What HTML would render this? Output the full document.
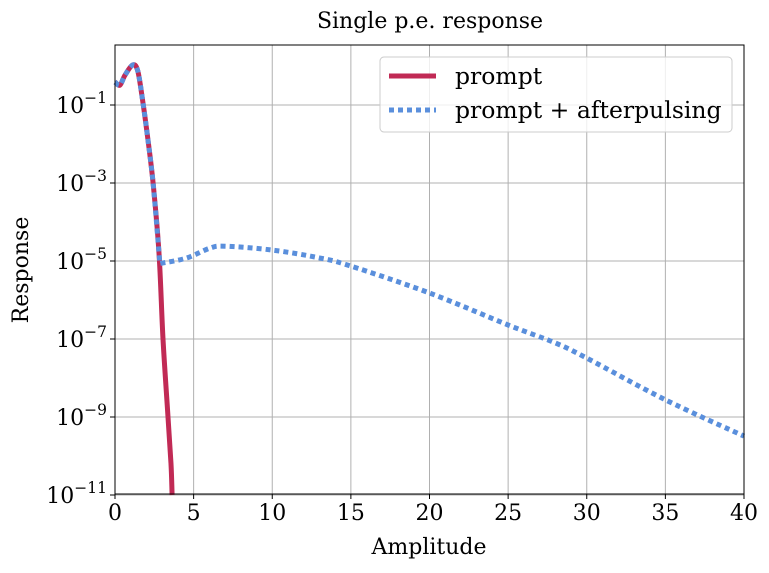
<!DOCTYPE html>
<html><head><meta charset="utf-8"><style>
body{margin:0;background:#fff}
svg text{font-family:"DejaVu Serif","Liberation Serif",serif;fill:#000}
</style></head><body>
<svg id="chart" width="769" height="568" xmlns="http://www.w3.org/2000/svg">
<rect width="769" height="568" fill="#fff"/>
<g id="grid"></g>
<g id="series"></g>
<rect x="115" y="45" width="629" height="449" fill="none" stroke="#000" stroke-width="1"/>
<g id="ticks"></g>
<text x="430" y="28" font-size="22" text-anchor="middle">Single p.e. response</text>
<text x="429" y="554" font-size="22" text-anchor="middle">Amplitude</text>
<text x="28" y="270" font-size="22" text-anchor="middle" transform="rotate(-90 28 270)">Response</text>
<g>
<rect x="380" y="57" width="352" height="75" rx="4" fill="#fff" fill-opacity="0.8" stroke="#ccc"/>
<line x1="389" y1="76" x2="436" y2="76" stroke="#c12a55" stroke-width="5"/>
<text x="455" y="84" font-size="23.5">prompt</text>
<line x1="389" y1="110" x2="436" y2="110" stroke="#5a8fdc" stroke-width="5" stroke-dasharray="5,4"/>
<text x="455" y="118" font-size="23.5">prompt + afterpulsing</text>
</g>
</svg>
<script>
const xTicks=[0,5,10,15,20,25,30,35,40];
const yTickExps=[-11,-9,-7,-5,-3,-1];
const promptX=[0,0.32,0.64,1.15,1.46,1.78,2.1,2.42,2.8,3.05,3.37,3.56,3.63];
const promptLog=[-0.41,-0.49,-0.23,0.03,-0.15,-0.95,-1.9,-3.0,-4.8,-7.0,-9.0,-10.2,-11];
const afterX=[0,0.32,0.64,1.15,1.46,1.78,2.1,2.42,2.8,2.86,3.05,4.58,6.04,7,10,13,15,20,25,28,30,35,40];
const afterLog=[-0.41,-0.49,-0.23,0.03,-0.15,-0.95,-1.9,-3.0,-4.8,-5.03,-5.05,-4.92,-4.67,-4.62,-4.72,-4.92,-5.13,-5.82,-6.64,-7.1,-7.49,-8.56,-9.49];
const NS="http://www.w3.org/2000/svg";
const L=115,R=744,T=45,B=494;
const xs=v=>L+(v-0)/40*(R-L);
const ys=e=>105-(e+1)*39;
function mk(t,a,p){const e=document.createElementNS(NS,t);for(const k in a)e.setAttribute(k,a[k]);p.appendChild(e);return e;}
const grid=document.getElementById('grid'),ticks=document.getElementById('ticks'),ser=document.getElementById('series');
xTicks.forEach(v=>{const x=xs(v);
 const g=mk('line',{x1:x,x2:x,y1:T,y2:B,stroke:'#b0b0b0','stroke-width':1},grid);
 
 
 const t=mk('line',{x1:x,x2:x,y1:B,y2:B+5,stroke:'#000'},ticks);
 
 
 const l=mk('text',{x:x,y:B+26,'font-size':22,'text-anchor':'middle'},ticks);
 l.textContent=v;
 
 
});
yTickExps.forEach(e=>{const y=ys(e);
 const g=mk('line',{x1:L,x2:R,y1:y,y2:y,stroke:'#b0b0b0','stroke-width':1},grid);
 
 
 const t=mk('line',{x1:L-5,x2:L,y1:y,y2:y,stroke:'#000'},ticks);
 
 
 const l=mk('text',{x:L-8,y:y+8,'font-size':22,'text-anchor':'end'},ticks);
 l.innerHTML='10<tspan dy="-10" font-size="15.5">\u2212'+Math.abs(e)+'</tspan>';
 
 
});
function path(X,Y){
 const P=X.map((v,i)=>[xs(v),ys(Y[i])]);
 let d='M'+P[0][0].toFixed(1)+','+P[0][1].toFixed(1);
 for(let i=0;i<P.length-1;i++){
  const p0=P[Math.max(0,i-1)],p1=P[i],p2=P[i+1],p3=P[Math.min(P.length-1,i+2)];
  const c1=[p1[0]+(p2[0]-p0[0])/6,p1[1]+(p2[1]-p0[1])/6];
  const c2=[p2[0]-(p3[0]-p1[0])/6,p2[1]-(p3[1]-p1[1])/6];
  d+='C'+c1.map(n=>n.toFixed(1))+' '+c2.map(n=>n.toFixed(1))+' '+p2.map(n=>n.toFixed(1));
 }
 return d;
}
const p1=mk('path',{d:path(promptX,promptLog),fill:'none',stroke:'#c12a55','stroke-width':5,'stroke-linejoin':'round'},ser);


const p2=mk('path',{d:path(afterX,afterLog),fill:'none',stroke:'#5a8fdc','stroke-width':5,'stroke-dasharray':'5,4'},ser);


</script>
</body></html>
